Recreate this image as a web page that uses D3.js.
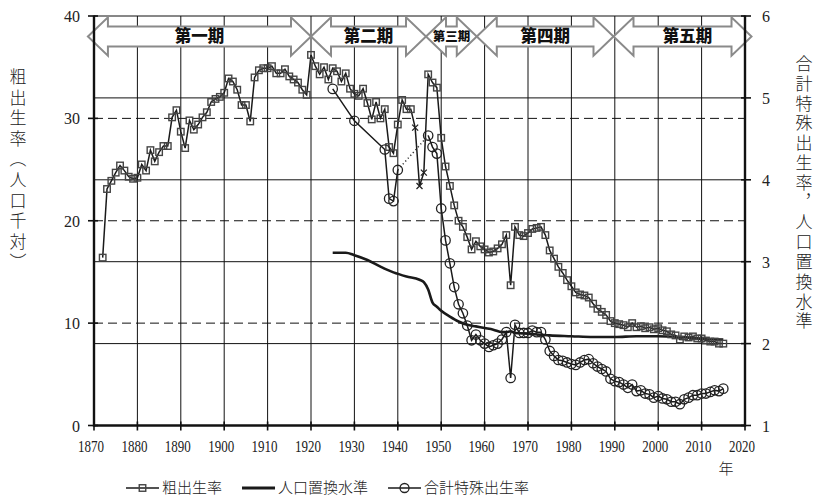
<!DOCTYPE html>
<html><head><meta charset="utf-8">
<script src="https://cdn.jsdelivr.net/npm/d3@7"></script>
<style>body{margin:0;background:#fff} svg{display:block}</style>
</head><body><svg id="c" width="818" height="500"></svg>
<script>
// ---- data ----
const cbrStart = 1872;
const cbrEarly = [16.4,23.1,23.9,24.7,25.4,24.9,24.3,24.1,24.2,25.5,24.9,26.9,25.8,26.7,27.3,27.3,30.1,30.8,28.7,27.1,
  29.8,28.9,29.4,30.1,30.6,31.6,31.9,32.1,32.5,33.9,33.6,32.8,31.3,31.3,29.7,34.0,34.7,34.9,34.9,35.1,
  34.4,34.4,34.8,34.1,33.8,33.5,32.8,32.3,36.2,35.1,34.3,35.0,33.8,34.9,34.6,33.6,34.4,32.9,32.4,32.2,
  32.9,31.5,29.9,31.6,30.0,30.9,27.2,26.6,29.4,31.8,30.9,30.9]; // 1872-1943
const cbrEstYears = [1944,1945,1946];
const cbrEst = [29.1,23.4,24.7];
const cbrLateStart = 1947;
const cbrLate = [34.3,33.5,33.0,28.1,25.3,23.4,21.5,20.0,19.4,18.4,17.2,18.0,17.5,17.2,16.9,17.0,17.3,17.7,18.6,13.7,
  19.4,18.6,18.5,18.8,19.2,19.3,19.4,18.6,17.1,16.3,15.5,14.9,14.2,13.6,13.0,12.8,12.7,12.5,11.9,11.4,
  11.1,10.8,10.2,10.0,9.9,9.8,9.6,10.0,9.6,9.7,9.5,9.6,9.4,9.5,9.3,9.2,8.9,8.8,8.4,8.7,
  8.6,8.7,8.5,8.5,8.3,8.2,8.2,8.0,8.0]; // 1947-2015
const tfrPreYears = [1925,1930,1937,1938,1939,1940];
const tfrPre = [5.11,4.72,4.37,3.77,3.74,4.12];
const tfrStart = 1947;
const tfrLate = [4.54,4.40,4.32,3.65,3.26,2.98,2.69,2.48,2.37,2.22,2.04,2.11,2.04,2.00,1.96,1.98,2.00,2.05,2.14,1.58,
  2.23,2.13,2.13,2.13,2.16,2.14,2.14,2.05,1.91,1.85,1.80,1.79,1.77,1.75,1.74,1.77,1.80,1.81,1.76,1.72,
  1.69,1.66,1.57,1.54,1.53,1.50,1.46,1.50,1.42,1.43,1.39,1.38,1.34,1.36,1.33,1.32,1.29,1.29,1.26,1.32,
  1.34,1.37,1.37,1.39,1.39,1.41,1.43,1.42,1.45]; // 1947-2015
const replYears = [1925,1928,1930,1933,1936,1939,1942,1945,1946,1947,1948,1949,1950,1952,1954,1956,1958,1960,1962,1964,1965,1966,1967,1970,1975,1980,1985,1990,1995,2000,2005,2010,2015];
const replVals  = [3.11,3.11,3.08,3.02,2.94,2.87,2.82,2.78,2.75,2.66,2.50,2.45,2.40,2.33,2.27,2.23,2.21,2.19,2.17,2.14,2.14,2.15,2.13,2.12,2.10,2.09,2.08,2.08,2.09,2.09,2.08,2.06,2.05];
const periodBounds = [1868.6,1920,1946.5,1958.2,1989.7,2021.5];
const periodLabels = ["第一期","第二期","第三期","第四期","第五期"];
const xTicks = [1870,1880,1890,1900,1910,1920,1930,1940,1950,1960,1970,1980,1990,2000,2010,2020];
const yLTicks = [0,10,20,30,40];
const yRTicks = [1,2,3,4,5,6];
const legendLabels = ["粗出生率","人口置換水準","合計特殊出生率"];

// ---- build ----
const svg = d3.select("#c");
const x = d3.scaleLinear().domain([1870,2020]).range([94,745]);
const yL = d3.scaleLinear().domain([0,40]).range([425.5,16]);
const yR = d3.scaleLinear().domain([1,6]).range([425.5,16]);
const numFont = "'Liberation Serif', serif";
const cjk = "'Noto Sans CJK JP', sans-serif";

const cbr = cbrEarly.map((v,i)=>({y:cbrStart+i,v}))
  .concat(cbrEst.map((v,i)=>({y:cbrEstYears[i],v,est:true})))
  .concat(cbrLate.map((v,i)=>({y:cbrLateStart+i,v})));
const tfrA = tfrPre.map((v,i)=>({y:tfrPreYears[i],v}));
const tfrB = tfrLate.map((v,i)=>({y:tfrStart+i,v}));
const repl = replYears.map((y,i)=>({y,v:replVals[i]}));

// grid
const g = svg.append("g");
g.selectAll("line.v").data(xTicks.slice(1,-1)).join("line")
  .attr("x1",d=>x(d)).attr("x2",d=>x(d)).attr("y1",yL(40)).attr("y2",yL(0))
  .attr("stroke","#111").attr("stroke-width",1);
g.selectAll("line.hs").data([2,3,4,5]).join("line")
  .attr("x1",x(1870)).attr("x2",x(2020)).attr("y1",d=>yR(d)).attr("y2",d=>yR(d))
  .attr("stroke","#111").attr("stroke-width",1);
g.selectAll("line.hd").data([10,20,30]).join("line")
  .attr("x1",x(1870)).attr("x2",x(2020)).attr("y1",d=>yL(d)).attr("y2",d=>yL(d))
  .attr("stroke","#111").attr("stroke-width",1).attr("stroke-dasharray","9,5");
g.append("line").attr("x1",x(1870)).attr("x2",x(2020)).attr("y1",yL(40)).attr("y2",yL(40))
  .attr("stroke","#111").attr("stroke-width",1);

// period arrows
const cy=36.5, H=19.2, S=10, hl=20;
function arrowPath(a,b){
  return `M${a},${cy}L${a+hl},${cy-H}L${a+hl},${cy-S}L${b-hl},${cy-S}L${b-hl},${cy-H}L${b},${cy}`+
         `L${b-hl},${cy+H}L${b-hl},${cy+S}L${a+hl},${cy+S}L${a+hl},${cy+H}Z`;
}
periodLabels.forEach((lab,i)=>{
  const a=x(periodBounds[i]), b=x(periodBounds[i+1]);
  svg.append("path").attr("d",arrowPath(a,b)).attr("fill","#fff")
    .attr("stroke","#8a8a8a").attr("stroke-width",2).attr("stroke-linejoin","miter");
  const small = (b-a)<70;
  svg.append("text").attr("x",(a+b)/2 + (i===4?5:0)).attr("y",cy).attr("dy","0.36em")
    .attr("text-anchor","middle").attr("font-family",cjk).attr("font-weight",900)
    .attr("font-size",small?12.5:16.5).attr("fill","#111").text(lab);
});

// axes
function axisLine(x1,y1,x2,y2){svg.append("line").attr("x1",x1).attr("y1",y1).attr("x2",x2).attr("y2",y2)
  .attr("stroke","#111").attr("stroke-width",2.4);}
axisLine(x(1870),yL(0),x(2020),yL(0));
axisLine(x(1870),yL(0)+1.2,x(1870),yL(40)-0.5);
axisLine(x(2020),yL(0)+1.2,x(2020),yL(40)-0.5);
const ax = svg.append("g").attr("stroke","#111").attr("stroke-width",1.6);
ax.selectAll("line.tx").data(xTicks).join("line")
  .attr("x1",d=>x(d)).attr("x2",d=>x(d)).attr("y1",yL(0)-4).attr("y2",yL(0)+5);
ax.selectAll("line.tl").data(yLTicks).join("line")
  .attr("x1",x(1870)-6).attr("x2",x(1870)+4).attr("y1",d=>yL(d)).attr("y2",d=>yL(d));
ax.selectAll("line.tr").data(yRTicks).join("line")
  .attr("x1",x(2020)-4).attr("x2",x(2020)+6).attr("y1",d=>yR(d)).attr("y2",d=>yR(d));

const lab = svg.append("g").attr("font-family",numFont).attr("font-size",17).attr("fill","#222");
lab.selectAll("text.x").data(xTicks).join("text")
  .attr("x",d=>x(d)-3).attr("y",452).attr("text-anchor","middle")
  .attr("textLength",26).attr("lengthAdjust","spacingAndGlyphs").text(d=>d);
lab.selectAll("text.l").data(yLTicks).join("text")
  .attr("x",80).attr("y",d=>yL(d)+6).attr("text-anchor","end")
  .attr("textLength",d=>String(d).length*8).attr("lengthAdjust","spacingAndGlyphs").text(d=>d);
lab.selectAll("text.r").data(yRTicks).join("text")
  .attr("x",762).attr("y",d=>yR(d)+6).attr("text-anchor","start")
  .attr("textLength",8).attr("lengthAdjust","spacingAndGlyphs").text(d=>d);

// titles
svg.append("text").attr("x",18).attr("y",68).attr("font-family",cjk).attr("font-size",17)
  .attr("font-weight",300).attr("fill","#222").attr("letter-spacing",3.6)
  .style("writing-mode","vertical-rl").text("粗出生率（人口千対）");
svg.append("text").attr("x",804).attr("y",55).attr("font-family",cjk).attr("font-size",17)
  .attr("font-weight",300).attr("fill","#222").attr("letter-spacing",2.8)
  .style("writing-mode","vertical-rl").text("合計特殊出生率，人口置換水準");
svg.append("text").attr("x",726).attr("y",474).attr("text-anchor","middle").attr("font-family",cjk)
  .attr("font-size",15).attr("font-weight",300).attr("fill","#222").text("年");

// data lines
const lineL = d3.line().x(d=>x(d.y)).y(d=>yL(d.v));
const lineR = d3.line().x(d=>x(d.y)).y(d=>yR(d.v));
const cbrSorted = cbr.slice().sort((a,b)=>a.y-b.y);
svg.append("path").attr("d",lineR.curve(d3.curveMonotoneX)(repl)).attr("fill","none")
  .attr("stroke","#1a1a1a").attr("stroke-width",2.6);
lineR.curve(d3.curveLinear);
svg.append("path").attr("d",lineL(cbrSorted)).attr("fill","none").attr("stroke","#1a1a1a").attr("stroke-width",1.5);
svg.append("path").attr("d",lineR(tfrA)).attr("fill","none").attr("stroke","#1a1a1a").attr("stroke-width",1.5);
svg.append("path").attr("d",lineR([tfrA[tfrA.length-1],tfrB[0]])).attr("fill","none")
  .attr("stroke","#333").attr("stroke-width",1.5).attr("stroke-dasharray","1.2,2.6");
svg.append("path").attr("d",lineR(tfrB)).attr("fill","none").attr("stroke","#1a1a1a").attr("stroke-width",1.5);

// markers
const ms=6.5;
svg.append("g").selectAll("rect").data(cbr.filter(d=>!d.est)).join("rect")
  .attr("x",d=>x(d.y)-ms/2).attr("y",d=>yL(d.v)-ms/2).attr("width",ms).attr("height",ms)
  .attr("fill","none").attr("stroke","#444").attr("stroke-width",1.4);
svg.append("g").selectAll("path").data(cbr.filter(d=>d.est)).join("path")
  .attr("d",d=>{const cx=x(d.y),cy2=yL(d.v),r=3;return `M${cx-r},${cy2-r}L${cx+r},${cy2+r}M${cx-r},${cy2+r}L${cx+r},${cy2-r}`;})
  .attr("stroke","#222").attr("stroke-width",1.3);
svg.append("g").selectAll("circle").data(tfrA.concat(tfrB)).join("circle")
  .attr("cx",d=>x(d.y)).attr("cy",d=>yR(d.v)).attr("r",4.7)
  .attr("fill","none").attr("stroke","#222").attr("stroke-width",1.3);

// legend
const lg = svg.append("g");
const ly = 488;
let lx = 126;
const lineLen = 33, gapTxt = 3, gapItem = 20;
legendLabels.forEach((t,i)=>{
  lg.append("line").attr("x1",lx).attr("x2",lx+lineLen).attr("y1",ly).attr("y2",ly)
    .attr("stroke","#1a1a1a").attr("stroke-width",i===1?3:1.5);
  const mx = lx+lineLen/2;
  if(i===0) lg.append("rect").attr("x",mx-3.25).attr("y",ly-3.25).attr("width",6.5).attr("height",6.5)
      .attr("fill","none").attr("stroke","#444").attr("stroke-width",1.4);
  if(i===2) lg.append("circle").attr("cx",mx).attr("cy",ly).attr("r",4.5)
      .attr("fill","none").attr("stroke","#222").attr("stroke-width",1.3);
  const tx = lg.append("text").attr("x",lx+lineLen+gapTxt).attr("y",ly).attr("dy","0.36em")
    .attr("font-family",cjk).attr("font-size",15).attr("font-weight",300).attr("fill","#222").text(t);
  const w = tx.node().getComputedTextLength();
  lx = lx+lineLen+gapTxt+w+gapItem;
});
</script></body></html>
